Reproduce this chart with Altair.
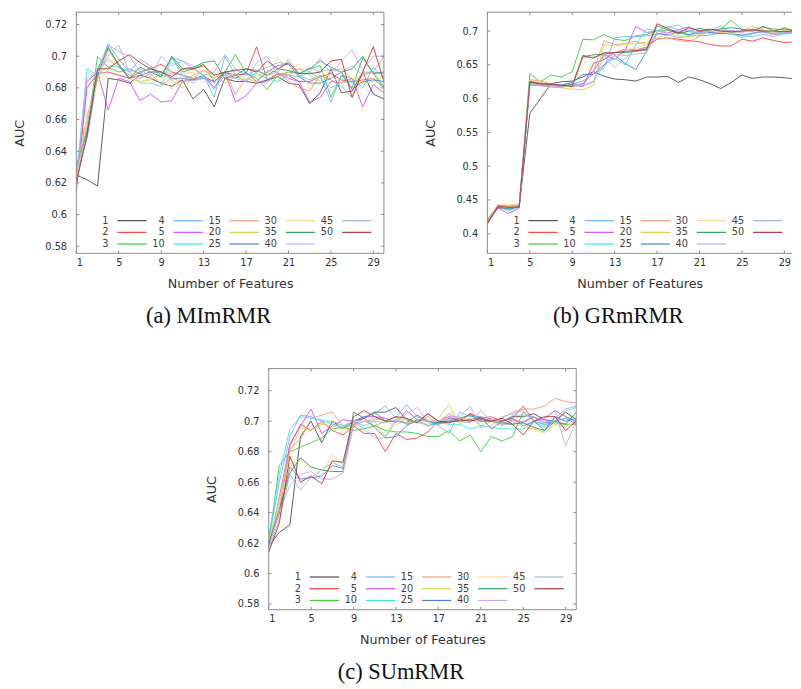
import altair as alt
import pandas as pd

X = list(range(1, 31))
X_TICKS = [1, 5, 9, 13, 17, 21, 25, 29]
SERIES = ["1", "2", "3", "4", "5", "10", "15", "20", "25", "30", "35", "40", "45", "50"]
COLORS = ["#4a4a4a", "#ff3b3b", "#3cc83c", "#6fb4ff", "#cc4cff", "#40e4e4", "#ea9c7c",
          "#d4d444", "#4f7de0", "#ffd68a", "#2f9c60", "#c6a6ff", "#a4b8cc", "#b43434"]

# legend layout: gnuplot key, column-major 3 rows x 5 columns
LEG_COL = [0, 0, 0, 1, 1, 1, 2, 2, 2, 3, 3, 3, 4, 4]
LEG_ROW = [0, 1, 2, 0, 1, 2, 0, 1, 2, 0, 1, 2, 0, 1]

# ---------------- (a) MImRMR ----------------
MI = {
    "1":  [0.625,0.622,0.618,0.686,0.685,0.683,0.688,0.686,0.683,0.681,0.685,0.673,0.679,0.668,0.686,0.684,0.684,0.683,0.685,0.687,0.683,0.682,0.670,0.677,0.692,0.677,0.678,0.690,0.676,0.673],
    "2":  [0.615,0.680,0.689,0.690,0.688,0.686,0.690,0.692,0.695,0.690,0.688,0.686,0.687,0.684,0.690,0.688,0.689,0.706,0.685,0.689,0.688,0.684,0.684,0.687,0.689,0.685,0.684,0.685,0.686,0.680],
    "3":  [0.631,0.652,0.700,0.693,0.690,0.692,0.689,0.693,0.687,0.699,0.690,0.692,0.695,0.684,0.690,0.701,0.689,0.686,0.679,0.688,0.690,0.689,0.692,0.694,0.674,0.688,0.680,0.699,0.689,0.680],
    "4":  [0.628,0.660,0.690,0.708,0.698,0.690,0.698,0.694,0.688,0.699,0.697,0.692,0.688,0.674,0.700,0.688,0.684,0.690,0.693,0.696,0.695,0.688,0.685,0.688,0.671,0.688,0.686,0.680,0.693,0.686],
    "5":  [0.621,0.684,0.690,0.666,0.686,0.684,0.672,0.676,0.671,0.672,0.684,0.685,0.686,0.684,0.690,0.671,0.675,0.683,0.684,0.689,0.686,0.684,0.671,0.674,0.684,0.683,0.686,0.668,0.682,0.677],
    "10": [0.623,0.692,0.688,0.694,0.693,0.690,0.683,0.683,0.681,0.699,0.688,0.685,0.686,0.683,0.689,0.692,0.688,0.689,0.686,0.684,0.688,0.687,0.690,0.686,0.680,0.684,0.683,0.689,0.690,0.681],
    "15": [0.620,0.655,0.690,0.698,0.693,0.688,0.686,0.689,0.682,0.686,0.684,0.688,0.691,0.686,0.690,0.676,0.686,0.684,0.691,0.690,0.684,0.680,0.678,0.688,0.685,0.681,0.674,0.690,0.690,0.689],
    "20": [0.626,0.662,0.685,0.704,0.694,0.686,0.684,0.685,0.689,0.685,0.680,0.686,0.691,0.688,0.683,0.687,0.685,0.688,0.690,0.686,0.690,0.692,0.688,0.684,0.690,0.692,0.686,0.683,0.684,0.687],
    "25": [0.624,0.648,0.688,0.706,0.694,0.686,0.688,0.690,0.690,0.686,0.686,0.685,0.688,0.680,0.690,0.686,0.690,0.684,0.690,0.694,0.695,0.687,0.683,0.683,0.686,0.690,0.679,0.684,0.685,0.684],
    "30": [0.622,0.660,0.684,0.692,0.699,0.691,0.684,0.686,0.687,0.679,0.689,0.690,0.683,0.693,0.687,0.689,0.686,0.684,0.689,0.699,0.692,0.695,0.679,0.690,0.687,0.683,0.685,0.687,0.686,0.688],
    "35": [0.630,0.652,0.692,0.705,0.695,0.686,0.693,0.690,0.687,0.700,0.692,0.693,0.696,0.697,0.686,0.688,0.692,0.691,0.688,0.692,0.691,0.689,0.692,0.697,0.693,0.690,0.692,0.700,0.689,0.690],
    "40": [0.622,0.686,0.690,0.700,0.707,0.690,0.692,0.687,0.700,0.694,0.697,0.694,0.687,0.679,0.688,0.686,0.684,0.696,0.700,0.688,0.688,0.692,0.690,0.699,0.689,0.697,0.704,0.691,0.700,0.700],
    "45": [0.627,0.655,0.690,0.707,0.703,0.700,0.690,0.692,0.690,0.689,0.688,0.683,0.688,0.690,0.701,0.692,0.688,0.691,0.688,0.690,0.698,0.689,0.693,0.690,0.692,0.690,0.694,0.688,0.690,0.700],
    "50": [0.620,0.650,0.692,0.692,0.697,0.701,0.696,0.692,0.690,0.687,0.692,0.692,0.694,0.688,0.690,0.691,0.692,0.690,0.697,0.692,0.696,0.689,0.689,0.690,0.697,0.698,0.674,0.690,0.706,0.684],
}

# ---------------- (b) GRmRMR ----------------
GR = {
    "1":  [0.417,0.440,0.437,0.440,0.578,0.600,0.622,0.625,0.626,0.632,0.640,0.633,0.629,0.628,0.626,0.632,0.632,0.633,0.624,0.632,0.628,0.622,0.615,0.624,0.635,0.630,0.632,0.632,0.631,0.629],
    "2":  [0.414,0.442,0.440,0.440,0.626,0.623,0.620,0.618,0.620,0.618,0.652,0.658,0.668,0.673,0.672,0.676,0.688,0.690,0.688,0.686,0.684,0.680,0.678,0.678,0.688,0.685,0.690,0.686,0.683,0.684],
    "3":  [0.420,0.438,0.438,0.439,0.637,0.625,0.635,0.632,0.640,0.688,0.687,0.695,0.688,0.686,0.693,0.695,0.700,0.701,0.698,0.694,0.700,0.701,0.703,0.716,0.702,0.700,0.706,0.703,0.702,0.703],
    "4":  [0.418,0.441,0.440,0.441,0.622,0.620,0.620,0.618,0.622,0.626,0.636,0.645,0.690,0.692,0.692,0.693,0.696,0.695,0.690,0.693,0.693,0.694,0.697,0.695,0.693,0.692,0.695,0.692,0.696,0.697],
    "5":  [0.416,0.438,0.430,0.438,0.624,0.621,0.618,0.617,0.620,0.622,0.640,0.665,0.658,0.672,0.707,0.698,0.700,0.697,0.702,0.706,0.700,0.697,0.699,0.701,0.698,0.703,0.700,0.697,0.700,0.700],
    "10": [0.419,0.441,0.434,0.440,0.625,0.621,0.622,0.620,0.624,0.618,0.625,0.650,0.660,0.650,0.680,0.703,0.700,0.707,0.702,0.699,0.697,0.700,0.708,0.697,0.690,0.696,0.700,0.697,0.699,0.700],
    "15": [0.417,0.442,0.441,0.441,0.628,0.626,0.622,0.619,0.618,0.620,0.640,0.686,0.680,0.682,0.685,0.680,0.688,0.690,0.686,0.684,0.692,0.702,0.698,0.697,0.700,0.702,0.698,0.697,0.700,0.698],
    "20": [0.422,0.440,0.440,0.441,0.623,0.622,0.618,0.616,0.614,0.613,0.620,0.680,0.678,0.680,0.682,0.683,0.690,0.695,0.693,0.692,0.695,0.699,0.697,0.697,0.700,0.707,0.702,0.698,0.706,0.700],
    "25": [0.420,0.439,0.436,0.440,0.620,0.620,0.619,0.620,0.624,0.636,0.636,0.650,0.664,0.652,0.643,0.670,0.697,0.694,0.699,0.695,0.697,0.698,0.696,0.697,0.694,0.697,0.699,0.695,0.697,0.699],
    "30": [0.424,0.444,0.443,0.444,0.627,0.624,0.620,0.618,0.622,0.650,0.660,0.666,0.668,0.672,0.675,0.680,0.700,0.696,0.693,0.690,0.695,0.700,0.699,0.696,0.697,0.708,0.700,0.697,0.701,0.701],
    "35": [0.418,0.440,0.438,0.440,0.624,0.622,0.622,0.619,0.621,0.662,0.665,0.666,0.668,0.668,0.670,0.672,0.708,0.702,0.696,0.700,0.704,0.701,0.703,0.705,0.703,0.700,0.707,0.700,0.704,0.700],
    "40": [0.421,0.441,0.438,0.441,0.622,0.621,0.618,0.617,0.620,0.620,0.626,0.664,0.646,0.660,0.672,0.675,0.694,0.702,0.700,0.701,0.698,0.700,0.702,0.700,0.700,0.699,0.698,0.695,0.697,0.698],
    "45": [0.419,0.442,0.441,0.443,0.621,0.619,0.617,0.617,0.620,0.660,0.662,0.664,0.665,0.664,0.666,0.668,0.700,0.706,0.709,0.700,0.696,0.700,0.702,0.698,0.700,0.702,0.701,0.696,0.700,0.698],
    "50": [0.415,0.441,0.439,0.440,0.625,0.622,0.621,0.620,0.618,0.664,0.660,0.668,0.668,0.670,0.671,0.673,0.711,0.704,0.697,0.705,0.700,0.703,0.700,0.699,0.700,0.702,0.700,0.700,0.699,0.701],
}

# ---------------- (c) SUmRMR ----------------
SU = {
    "1":  [0.618,0.627,0.632,0.690,0.700,0.686,0.700,0.695,0.700,0.702,0.706,0.706,0.709,0.701,0.699,0.705,0.700,0.700,0.700,0.705,0.701,0.700,0.700,0.703,0.703,0.705,0.701,0.700,0.706,0.701],
    "2":  [0.618,0.640,0.684,0.698,0.694,0.700,0.694,0.691,0.697,0.692,0.692,0.680,0.692,0.688,0.689,0.693,0.700,0.703,0.700,0.705,0.702,0.703,0.700,0.702,0.710,0.700,0.702,0.707,0.703,0.700],
    "3":  [0.620,0.671,0.680,0.683,0.686,0.689,0.695,0.696,0.694,0.695,0.697,0.694,0.693,0.693,0.692,0.690,0.690,0.694,0.687,0.691,0.680,0.690,0.687,0.690,0.706,0.700,0.698,0.699,0.698,0.698],
    "4":  [0.622,0.660,0.690,0.704,0.703,0.700,0.700,0.697,0.700,0.703,0.705,0.710,0.702,0.711,0.703,0.700,0.697,0.692,0.706,0.703,0.703,0.701,0.698,0.698,0.700,0.703,0.697,0.702,0.708,0.710],
    "5":  [0.617,0.650,0.685,0.697,0.708,0.692,0.697,0.701,0.700,0.703,0.703,0.702,0.699,0.707,0.701,0.697,0.699,0.705,0.700,0.701,0.700,0.702,0.698,0.701,0.699,0.703,0.699,0.700,0.702,0.698],
    "10": [0.624,0.665,0.695,0.703,0.702,0.701,0.698,0.696,0.700,0.697,0.700,0.699,0.701,0.698,0.700,0.697,0.699,0.698,0.698,0.695,0.697,0.696,0.695,0.695,0.695,0.700,0.696,0.700,0.702,0.700],
    "15": [0.619,0.645,0.682,0.688,0.702,0.704,0.706,0.697,0.697,0.700,0.697,0.700,0.703,0.698,0.700,0.703,0.698,0.700,0.702,0.701,0.702,0.700,0.702,0.706,0.708,0.708,0.710,0.715,0.713,0.712],
    "20": [0.621,0.648,0.679,0.696,0.694,0.698,0.697,0.695,0.698,0.700,0.700,0.690,0.702,0.701,0.699,0.698,0.702,0.711,0.698,0.702,0.697,0.700,0.697,0.700,0.696,0.695,0.693,0.698,0.696,0.700],
    "25": [0.620,0.640,0.670,0.662,0.663,0.664,0.671,0.669,0.698,0.702,0.696,0.689,0.690,0.697,0.701,0.700,0.698,0.702,0.700,0.701,0.703,0.695,0.700,0.702,0.697,0.700,0.694,0.703,0.700,0.702],
    "30": [0.616,0.646,0.672,0.674,0.669,0.665,0.678,0.671,0.700,0.700,0.702,0.700,0.697,0.702,0.699,0.701,0.700,0.705,0.702,0.702,0.700,0.703,0.698,0.700,0.698,0.694,0.692,0.700,0.697,0.699],
    "35": [0.619,0.642,0.666,0.676,0.670,0.668,0.667,0.667,0.706,0.702,0.706,0.700,0.700,0.699,0.704,0.700,0.699,0.700,0.702,0.704,0.700,0.700,0.699,0.698,0.699,0.696,0.694,0.700,0.698,0.706],
    "40": [0.617,0.641,0.658,0.665,0.667,0.662,0.662,0.666,0.697,0.700,0.701,0.702,0.700,0.705,0.709,0.700,0.700,0.703,0.703,0.710,0.696,0.697,0.703,0.705,0.707,0.700,0.702,0.707,0.684,0.700],
    "45": [0.615,0.636,0.665,0.655,0.663,0.668,0.673,0.670,0.700,0.695,0.689,0.689,0.700,0.699,0.700,0.705,0.700,0.701,0.700,0.699,0.707,0.700,0.699,0.704,0.704,0.703,0.700,0.700,0.707,0.709],
    "50": [0.614,0.633,0.677,0.660,0.664,0.659,0.674,0.673,0.703,0.707,0.703,0.700,0.703,0.702,0.699,0.705,0.700,0.699,0.701,0.700,0.702,0.700,0.702,0.698,0.691,0.700,0.703,0.703,0.694,0.700],
}

Y_TICKS_A = [0.58, 0.60, 0.62, 0.64, 0.66, 0.68, 0.70, 0.72]
Y_TICKS_B = [0.40, 0.45, 0.50, 0.55, 0.60, 0.65, 0.70]
Y_TICKS_C = [0.58, 0.60, 0.62, 0.64, 0.66, 0.68, 0.70, 0.72]

FONT = "DejaVu Sans"
FRAME = "#8a8a8a"
H = 247
W = 315


def panel(data, ydomain, yticks, caption, width=W, xmax=30, right_frame=True):
    rows = [{"s": s, "x": x, "auc": v} for s in SERIES for x, v in zip(X, data[s])]
    df = pd.DataFrame(rows)
    xs = alt.Scale(domain=[1, xmax], nice=False, zero=False)
    ys = alt.Scale(domain=list(ydomain), nice=False, zero=False)
    cs = alt.Scale(domain=SERIES, range=COLORS)
    ax_x = alt.Axis(values=X_TICKS, title="Number of Features")
    ax_y = alt.Axis(values=yticks, format=".2~f", title="AUC")

    def X_(f):
        return alt.X(f, type="quantitative", scale=xs, axis=ax_x)

    def Y_(f):
        return alt.Y(f, type="quantitative", scale=ys, axis=ax_y)

    lines = alt.Chart(df).mark_line(strokeWidth=1, clip=True, opacity=0.9).encode(
        x=X_("x"), y=Y_("auc"),
        color=alt.Color("s:N", scale=cs, legend=None),
    )

    xt = pd.DataFrame({"t": X_TICKS})
    yt = pd.DataFrame({"v": yticks})
    tick_b = alt.Chart(xt).mark_rule(color=FRAME).encode(x=X_("t"), y=alt.value(H), y2=alt.value(H - 3))
    tick_t = alt.Chart(xt).mark_rule(color=FRAME).encode(x=X_("t"), y=alt.value(0), y2=alt.value(3))
    tick_l = alt.Chart(yt).mark_rule(color=FRAME).encode(y=Y_("v"), x=alt.value(0), x2=alt.value(3))
    layers = [lines, tick_b, tick_t, tick_l]
    if right_frame:
        layers.append(alt.Chart(yt).mark_rule(color=FRAME).encode(
            y=Y_("v"), x=alt.value(width), x2=alt.value(width - 3)))

    one = pd.DataFrame({"k": [0]})
    layers += [
        alt.Chart(one).mark_rule(color=FRAME).encode(x=alt.value(0), x2=alt.value(width), y=alt.value(0)),
        alt.Chart(one).mark_rule(color=FRAME).encode(x=alt.value(0), x2=alt.value(width), y=alt.value(H)),
        alt.Chart(one).mark_rule(color=FRAME).encode(x=alt.value(0), y=alt.value(0), y2=alt.value(H)),
    ]
    if right_frame:
        layers.append(alt.Chart(one).mark_rule(color=FRAME).encode(
            x=alt.value(width), y=alt.value(0), y2=alt.value(H)))

    # gnuplot-style key (label, then line sample); pixel layout converted to data units
    px_x = (xmax - 1) / width
    px_y = (ydomain[1] - ydomain[0]) / H
    leg = pd.DataFrame({"s": SERIES, "c": LEG_COL, "r": LEG_ROW})
    leg["lx"] = 1 + (33 + 57.5 * leg["c"]) * px_x
    leg["x1"] = leg["lx"] + 9 * px_x
    leg["x2"] = leg["lx"] + 39 * px_x
    leg["ly"] = ydomain[1] - (213.5 + 12 * leg["r"]) * px_y
    leg_text = alt.Chart(leg).mark_text(align="right", baseline="middle", fontSize=10,
                                        font=FONT, color="#444").encode(
        x=X_("lx"), y=Y_("ly"), text="s:N")
    leg_line = alt.Chart(leg).mark_rule(strokeWidth=1.2).encode(
        x=X_("x1"), x2="x2", y=Y_("ly"),
        color=alt.Color("s:N", scale=cs, legend=None))
    layers += [leg_text, leg_line]

    return alt.layer(*layers).properties(
        width=width, height=H,
        title=alt.TitleParams(text=caption, orient="bottom", anchor="middle", frame="group",
                              dx=-22, offset=15, font="Liberation Serif", fontSize=23,
                              fontWeight="normal", color="#111"),
    )


pa = panel(MI, [0.5755, 0.7278], Y_TICKS_A, "(a) MImRMR")
pb = panel(GR, [0.371, 0.728], Y_TICKS_B, "(b) GRmRMR", width=312, xmax=1 + 312 / (315 / 29),
           right_frame=False)
pc = panel(SU, [0.5763, 0.7346], Y_TICKS_C, "(c) SUmRMR")

spacer = alt.Chart(pd.DataFrame({"k": [0]})).mark_point(opacity=0).encode(
    x=alt.value(0), y=alt.value(0)).properties(width=132, height=10)

row1 = alt.hconcat(pa, pb, spacing=40)
row2 = alt.hconcat(spacer, pc, spacing=0)

chart = alt.vconcat(row1, row2, spacing=39).properties(
    padding={"left": 5, "top": -5, "right": 0, "bottom": 0}
).configure_view(stroke=None).configure_axis(
    labelFont=FONT, titleFont=FONT, labelFontSize=10, titleFontSize=13,
    labelColor="#333", titleColor="#333", titleFontWeight="normal",
    grid=False, domain=False, ticks=False, tickSize=0,
).configure_axisX(labelPadding=4, titlePadding=11).configure_axisY(labelPadding=10, titlePadding=19)

chart.save("out.html", embed_options={"renderer": "svg", "actions": False})
